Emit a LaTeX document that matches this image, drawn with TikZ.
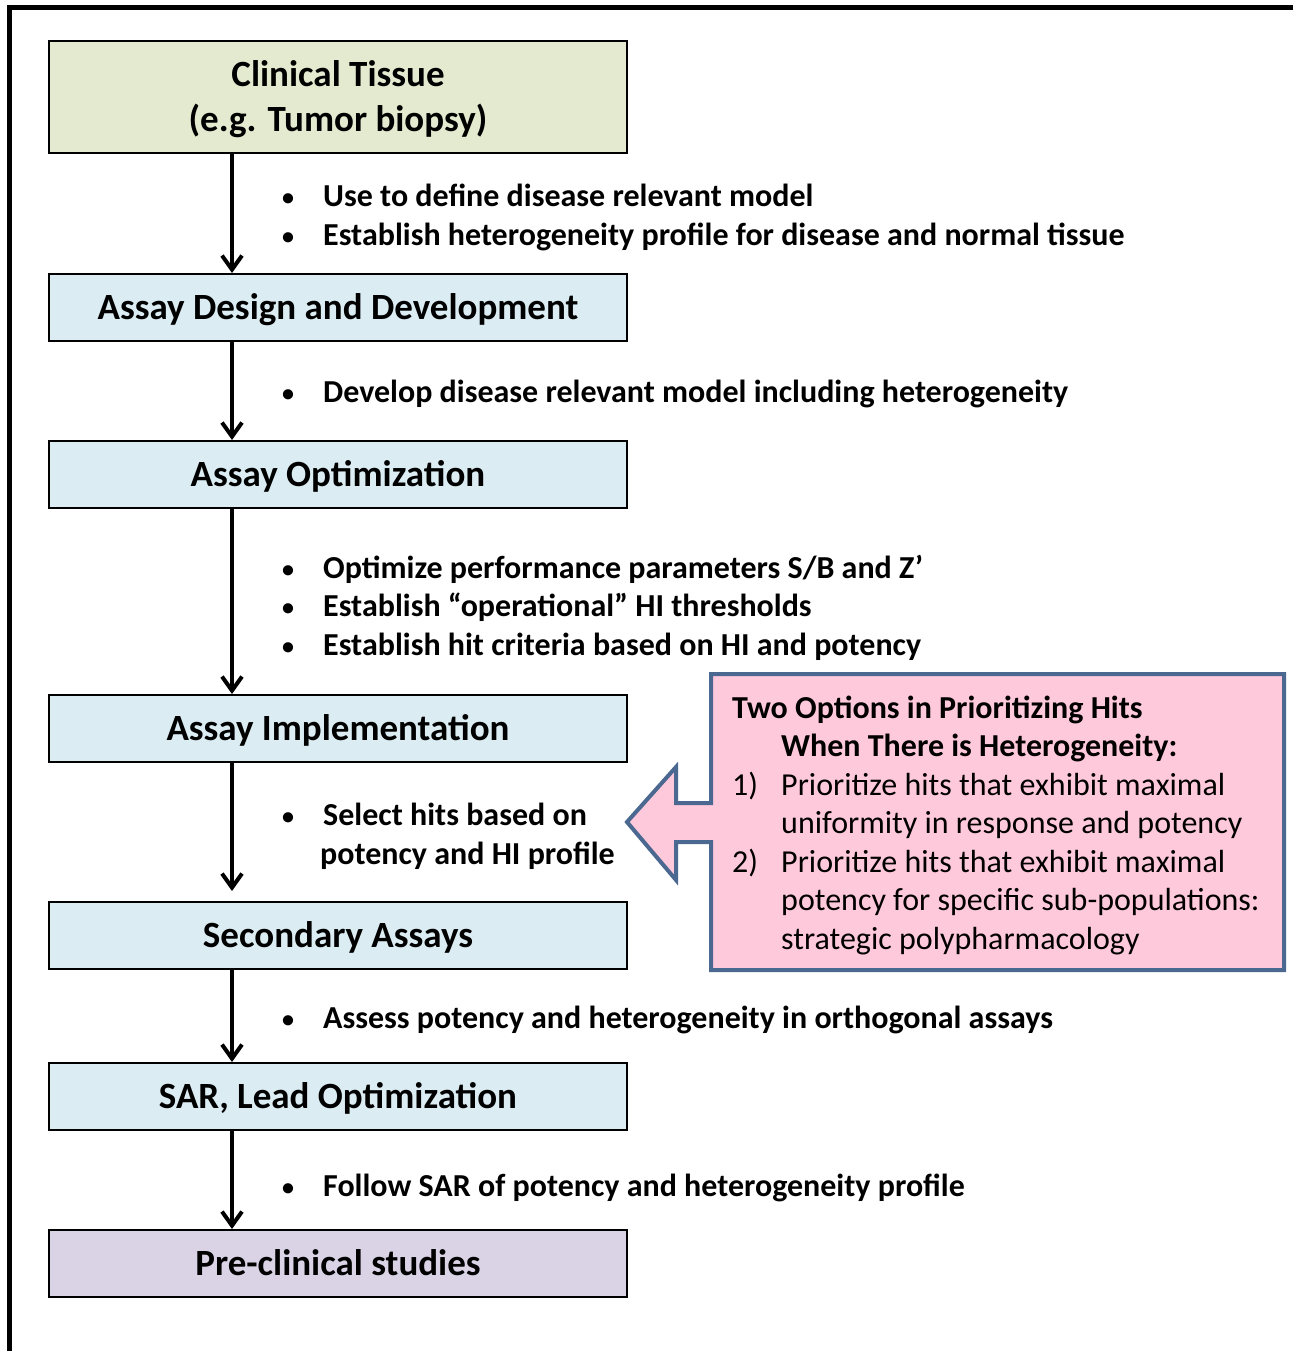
\documentclass[tikz,border=0pt]{standalone}
\usepackage{fontspec}
\setmainfont{Carlito}
\usetikzlibrary{arrows.meta,positioning}
\definecolor{tissuegreen}{HTML}{E3EACF}
\definecolor{stepblue}{HTML}{DBEDF3}
\definecolor{clinpurple}{HTML}{DAD2E5}
\definecolor{optpink}{HTML}{FFC9DC}
\definecolor{optblue}{HTML}{4A6890}

\begin{document}
\begin{tikzpicture}[x=1pt,y=1pt,
  stage/.style={draw,line width=2pt,fill=stepblue,minimum width=578pt,
    minimum height=67pt,inner sep=0pt,text depth=2pt,font=\fontsize{37}{45}\selectfont\bfseries,align=center},
  flow/.style={line width=4pt,-{Straight Barb[length=14pt,width=20pt]}},
  note/.style={anchor=base west,inner sep=0pt,font=\fontsize{32}{38}\selectfont\bfseries},
  opt/.style={anchor=base west,inner sep=0pt,font=\fontsize{32}{38}\selectfont}]
\useasboundingbox (0,0) rectangle (1293,-1351);
% frame
\draw[line width=5pt] (9.5,-1351) -- (9.5,-8) -- (1293,-8);
\coordinate (spine) at (232,0);
% stages
\node[stage,fill=tissuegreen,minimum height=112pt] (tissue) at (338,-97) {Clinical Tissue\\(e.g. Tumor biopsy)};
\node[stage] (design) at (338,-307.5) {Assay Design and Development};
\node[stage] (optim) at (338,-474.5) {Assay Optimization};
\node[stage] (impl) at (338,-728.5) {Assay Implementation};
\node[stage] (second) at (338,-935.5) {Secondary Assays};
\node[stage] (sar) at (338,-1096.5) {SAR, Lead Optimization};
\node[stage,fill=clinpurple] (preclin) at (338,-1263.5) {Pre-clinical studies};
% arrows
\draw[flow] (tissue.south -| spine) -- (design.north -| spine);
\draw[flow] (design.south -| spine) -- (optim.north -| spine);
\draw[flow] (optim.south -| spine) -- (impl.north -| spine);
\draw[flow] (impl.south -| spine) -- ([yshift=10pt]second.north -| spine);
\draw[flow] (second.south -| spine) -- (sar.north -| spine);
\draw[flow] (sar.south -| spine) -- (preclin.north -| spine);
% notes
\node[note] (n1a) at (282,-206) {\makebox[41pt][l]{\raisebox{1pt}{\fontsize{24}{24}\selectfont•}}Use to define disease relevant model};
\node[note] (n1b) at (282,-245) {\makebox[41pt][l]{\raisebox{1pt}{\fontsize{24}{24}\selectfont•}}Establish heterogeneity profile for disease and normal tissue};
\node[note] (n2a) at (282,-402) {\makebox[41pt][l]{\raisebox{1pt}{\fontsize{24}{24}\selectfont•}}Develop disease relevant model including heterogeneity};
\node[note] (n3a) at (282,-578) {\makebox[41pt][l]{\raisebox{1pt}{\fontsize{24}{24}\selectfont•}}Optimize performance parameters S/B and Z’};
\node[note] (n3b) at (282,-616) {\makebox[41pt][l]{\raisebox{1pt}{\fontsize{24}{24}\selectfont•}}Establish “operational” HI thresholds};
\node[note] (n3c) at (282,-655) {\makebox[41pt][l]{\raisebox{1pt}{\fontsize{24}{24}\selectfont•}}Establish hit criteria based on HI and potency};
\node[note] (n4a) at (282,-825) {\makebox[41pt][l]{\raisebox{1pt}{\fontsize{24}{24}\selectfont•}}Select hits based on};
\node[note] (n4b) at (320,-864) {potency and HI profile};
\node[note] (n5a) at (282,-1028) {\makebox[41pt][l]{\raisebox{1pt}{\fontsize{24}{24}\selectfont•}}Assess potency and heterogeneity in orthogonal assays};
\node[note] (n6a) at (282,-1196) {\makebox[41pt][l]{\raisebox{1pt}{\fontsize{24}{24}\selectfont•}}Follow SAR of potency and heterogeneity profile};
% options callout
\draw[line width=4pt,draw=optblue,fill=optpink,line join=miter]
  (711,-674) -- (1284,-674) -- (1284,-970) -- (711,-970) -- (711,-842)
  -- (676,-842) -- (676,-880) -- (627,-822) -- (676,-767) -- (676,-803)
  -- (711,-803) -- cycle;
\node[note] (o1) at (732,-718) {Two Options in Prioritizing Hits};
\node[note] (o2) at (781,-756) {When There is Heterogeneity:};
\node[opt] (o3n) at (732,-795) {1)};
\node[opt] (o3) at (781,-795) {Prioritize hits that exhibit maximal};
\node[opt] (o4) at (781,-833) {uniformity in response and potency};
\node[opt] (o5n) at (732,-872) {2)};
\node[opt] (o5) at (781,-872) {Prioritize hits that exhibit maximal};
\node[opt] (o6) at (781,-910) {potency for specific sub-populations:};
\node[opt] (o7) at (781,-949) {strategic polypharmacology};
\end{tikzpicture}
\end{document}
